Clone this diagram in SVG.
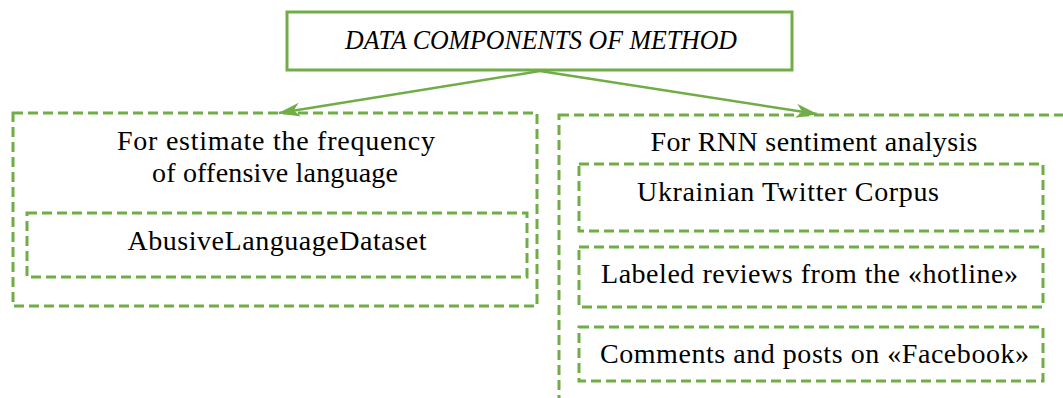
<svg xmlns="http://www.w3.org/2000/svg" width="1063" height="398" viewBox="0 0 1063 398">
  <style>
    .solid { fill: #ffffff; stroke: #70AD47; stroke-width: 3; }
    .dash { fill: none; stroke: #70AD47; stroke-width: 3; stroke-dasharray: 10 5; }
    .conn { fill: none; stroke: #70AD47; stroke-width: 2.5; }
    .t { font-family: "Liberation Serif", serif; font-size: 28px; fill: #000000; }
    .ti { font-family: "Liberation Serif", serif; font-size: 27px; font-style: italic; fill: #000000; }
  </style>
  <defs>
    <marker id="arrow" viewBox="0 0 22 14" refX="21" refY="7" markerWidth="22" markerHeight="14" markerUnits="userSpaceOnUse" orient="auto">
      <path d="M0,0 L22,7 L0,14 L6,7 Z" fill="#70AD47"/>
    </marker>
  </defs>
  <rect width="1063" height="398" fill="#ffffff"/>

  <g id="connectors">
    <line class="conn" x1="540" y1="71" x2="279" y2="113" marker-end="url(#arrow)"/>
    <line class="conn" x1="540" y1="71" x2="817" y2="114" marker-end="url(#arrow)"/>
  </g>

  <g id="node-top">
    <rect class="solid" x="287" y="12" width="505" height="58"/>
    <text class="ti" x="345" y="49" textLength="392" lengthAdjust="spacingAndGlyphs">DATA COMPONENTS OF METHOD</text>
  </g>

  <g id="node-left">
    <rect class="dash" x="13" y="113" width="524" height="193"/>
    <text class="t" x="276" y="150" text-anchor="middle" textLength="318">For estimate the frequency</text>
    <text class="t" x="275" y="182" text-anchor="middle" textLength="246">of offensive language</text>
  </g>

  <g id="node-abusive">
    <rect class="dash" x="27" y="213" width="500" height="64"/>
    <text class="t" x="277" y="250" text-anchor="middle" textLength="299">AbusiveLanguageDataset</text>
  </g>

  <g id="node-right">
    <rect class="dash" x="559" y="115" width="530" height="320"/>
    <text class="t" x="814" y="151" text-anchor="middle" textLength="327">For RNN sentiment analysis</text>
  </g>

  <g id="node-twitter">
    <rect class="dash" x="579" y="164" width="464" height="67"/>
    <text class="t" x="637" y="201" textLength="302">Ukrainian Twitter Corpus</text>
  </g>

  <g id="node-hotline">
    <rect class="dash" x="579" y="247" width="464" height="60"/>
    <text class="t" x="601" y="283" textLength="417">Labeled reviews from the «hotline»</text>
  </g>

  <g id="node-facebook">
    <rect class="dash" x="579" y="327" width="464" height="54"/>
    <text class="t" x="600" y="363" textLength="429">Comments and posts on «Facebook»</text>
  </g>
</svg>
